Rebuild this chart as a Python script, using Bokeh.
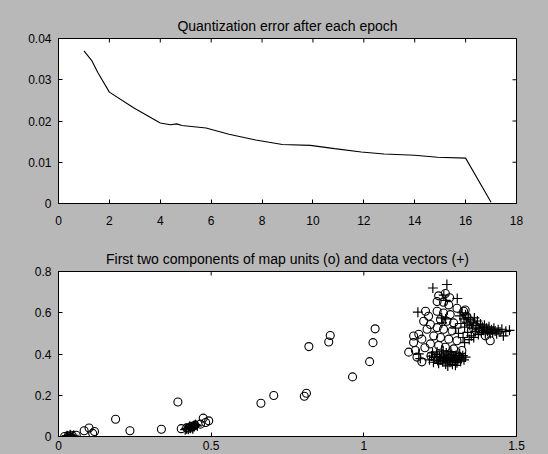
import math
from bokeh.plotting import figure
from bokeh.layouts import column
from bokeh.models import FixedTicker, Range1d
from bokeh.embed import file_html
from bokeh.resources import INLINE

# ---------------- data ----------------
title_top = "Quantization error after each epoch"
title_bottom = "First two components of map units (o) and data vectors (+)"

epoch = [1.0, 1.3, 1.55, 2.0, 2.95, 4.0, 4.4, 4.65, 4.85, 5.8, 6.7, 7.75,
         8.8, 9.9, 10.85, 11.9, 12.8, 14.0, 14.9, 16.0, 17.0]
qerr = [0.0370, 0.0347, 0.0317, 0.0270, 0.0232, 0.0195, 0.0191, 0.0193,
        0.0189, 0.0183, 0.0168, 0.0154, 0.0143, 0.0141, 0.0133, 0.0125,
        0.0120, 0.0117, 0.0112, 0.0110, 0.0003]

top_xticks = [0, 2, 4, 6, 8, 10, 12, 14, 16, 18]
top_xlabels = ["0", "2", "4", "6", "8", "10", "12", "14", "16", "18"]
top_yticks = [0, 0.01, 0.02, 0.03, 0.04]
top_ylabels = ["0", "0.01", "0.02", "0.03", "0.04"]

bot_xticks = [0, 0.5, 1, 1.5]
bot_xlabels = ["0", "0.5", "1", "1.5"]
bot_yticks = [0, 0.2, 0.4, 0.6, 0.8]
bot_ylabels = ["0", "0.2", "0.4", "0.6", "0.8"]

# map units (o)
unit_x = [0.020, 0.032, 0.045, 0.058, 0.084, 0.100, 0.112, 0.118, 0.187, 0.234,
          0.337, 0.391, 0.402, 0.420, 0.433, 0.447, 0.465, 0.474, 0.492, 0.482,
          0.663, 0.705, 0.805, 0.812, 0.820, 0.885, 0.890, 0.963, 1.019, 1.030,
          1.037,
          1.245, 1.267, 1.281, 1.240, 1.261, 1.278, 1.202, 1.212, 1.196, 1.218,
          1.207, 1.180, 1.190, 1.163, 1.147, 1.174, 1.169, 1.240, 1.261, 1.283,
          1.251, 1.272, 1.294, 1.240, 1.261, 1.289, 1.229, 1.251, 1.278, 1.305,
          1.218, 1.245, 1.267, 1.294, 1.321, 1.327, 1.337, 1.349, 1.365, 1.381,
          1.398, 1.414, 1.305, 1.332, 1.220, 1.250, 1.280, 1.310, 1.200, 1.190,
          1.163]
unit_y = [0.000, 0.002, 0.004, 0.006, 0.028, 0.041, 0.015, 0.024, 0.084, 0.028,
          0.035, 0.167, 0.038, 0.042, 0.048, 0.055, 0.060, 0.089, 0.076, 0.068,
          0.161, 0.199, 0.195, 0.210, 0.436, 0.458, 0.490, 0.289, 0.363, 0.455,
          0.522,
          0.682, 0.693, 0.673, 0.654, 0.651, 0.638, 0.607, 0.583, 0.559, 0.543,
          0.520, 0.496, 0.472, 0.456, 0.409, 0.385, 0.417, 0.607, 0.599, 0.591,
          0.567, 0.559, 0.551, 0.528, 0.520, 0.512, 0.488, 0.480, 0.472, 0.464,
          0.449, 0.441, 0.433, 0.425, 0.417, 0.607, 0.583, 0.559, 0.536, 0.512,
          0.488, 0.464, 0.622, 0.613, 0.390, 0.370, 0.380, 0.390, 0.430, 0.362,
          0.487]

# data vectors (+)
data_x = [0.025, 0.030, 0.035, 0.040, 0.045, 0.050, 0.038, 0.028,
          0.415, 0.420, 0.425, 0.428, 0.432, 0.435, 0.438, 0.442, 0.445, 0.450,
          0.455, 0.418, 0.430, 0.440, 0.448,
          1.226, 1.272, 1.306, 1.177, 1.262, 1.268, 1.256, 1.268, 1.255, 1.185,
          1.180,
          1.215, 1.222, 1.228, 1.232, 1.238, 1.242, 1.245, 1.248, 1.252, 1.255,
          1.258, 1.262, 1.265, 1.268, 1.270, 1.273, 1.276, 1.279, 1.282, 1.285,
          1.288, 1.290, 1.293, 1.296, 1.299, 1.302, 1.305, 1.308, 1.311, 1.314,
          1.317, 1.320, 1.324, 1.328, 1.333, 1.260, 1.240, 1.285, 1.225, 1.300,
          1.275,
          1.315, 1.322, 1.328, 1.333, 1.338, 1.342, 1.347, 1.350, 1.355, 1.358,
          1.362, 1.365, 1.368, 1.372, 1.375, 1.378, 1.382, 1.385, 1.388, 1.392,
          1.395, 1.398, 1.402, 1.405, 1.410, 1.414, 1.418, 1.422, 1.426, 1.430,
          1.435, 1.440, 1.446, 1.452, 1.457, 1.465, 1.477, 1.330, 1.318, 1.340,
          1.352, 1.345, 1.330, 1.360, 1.310, 1.300, 1.325]
data_y = [0.000, 0.003, 0.000, 0.005, 0.002, 0.006, 0.008, 0.004,
          0.033, 0.038, 0.035, 0.042, 0.040, 0.047, 0.044, 0.050, 0.048, 0.055,
          0.052, 0.040, 0.050, 0.038, 0.058,
          0.720, 0.737, 0.669, 0.603, 0.685, 0.660, 0.551, 0.570, 0.575, 0.378,
          0.401,
          0.372, 0.390, 0.360, 0.382, 0.398, 0.368, 0.355, 0.385, 0.372, 0.400,
          0.362, 0.390, 0.378, 0.352, 0.405, 0.368, 0.395, 0.382, 0.360, 0.373,
          0.398, 0.350, 0.386, 0.366, 0.378, 0.393, 0.358, 0.372, 0.385, 0.402,
          0.365, 0.380, 0.392, 0.372, 0.385, 0.415, 0.410, 0.412, 0.405, 0.345,
          0.342,
          0.585, 0.600, 0.570, 0.590, 0.555, 0.578, 0.540, 0.565, 0.525, 0.550,
          0.575, 0.510, 0.538, 0.560, 0.495, 0.522, 0.545, 0.505, 0.530, 0.515,
          0.540, 0.498, 0.525, 0.510, 0.532, 0.500, 0.518, 0.505, 0.525, 0.512,
          0.498, 0.518, 0.507, 0.520, 0.488, 0.510, 0.515, 0.530, 0.548, 0.505,
          0.488, 0.470, 0.455, 0.480, 0.500, 0.525, 0.480]

# ---------------- styling ----------------
BG = "#b8b8b8"
FONT = "Liberation Sans"


def style(p, xt, xl, yt, yl, xr, yr, xstandoff):
    p.background_fill_color = "white"
    p.border_fill_color = BG
    p.outline_line_color = "black"
    p.outline_line_width = 1
    p.grid.visible = False
    p.title.text_font = FONT
    p.title.text_font_size = "14px"
    p.title.text_font_style = "normal"
    p.title.text_color = "black"
    p.title.align = "center"
    p.title.standoff = 9
    p.xaxis.ticker = FixedTicker(ticks=xt)
    p.xaxis.major_label_overrides = {float(t): s for t, s in zip(xt, xl)}
    p.yaxis.ticker = FixedTicker(ticks=yt)
    p.yaxis.major_label_overrides = {float(t): s for t, s in zip(yt, yl)}
    for ax in (p.xaxis[0], p.yaxis[0]):
        ax.major_tick_in = 4
        ax.major_tick_out = 0
        ax.minor_tick_line_color = None
        ax.axis_line_color = "black"
        ax.major_tick_line_color = "black"
        ax.major_label_text_font = FONT
        ax.major_label_text_font_size = "12px"
        ax.major_label_text_color = "black"
    p.yaxis.major_label_standoff = 7
    p.xaxis.major_label_standoff = xstandoff
    # mirrored inward ticks on the top and right edges (MATLAB "box on")
    p.scatter(xt, [yr[1]] * len(xt), marker="dash", angle=math.pi / 2, size=8,
              line_color="black", line_width=1)
    p.scatter([xr[1]] * len(yt), yt, marker="dash", size=8,
              line_color="black", line_width=1)


top_xr, top_yr = (0, 18), (0, 0.04)
p1 = figure(width=548, height=244, output_backend="svg", toolbar_location=None,
            x_range=Range1d(*top_xr), y_range=Range1d(*top_yr), title=title_top,
            min_border_left=57, min_border_right=32, min_border_top=38,
            min_border_bottom=41)
style(p1, top_xticks, top_xlabels, top_yticks, top_ylabels, top_xr, top_yr, 12)
p1.line(epoch, qerr, line_color="black", line_width=1.1)

bot_xr, bot_yr = (0, 1.5), (0, 0.8)
p2 = figure(width=548, height=210, output_backend="svg", toolbar_location=None,
            x_range=Range1d(*bot_xr), y_range=Range1d(*bot_yr), title=title_bottom,
            min_border_left=58, min_border_right=30, min_border_top=23,
            min_border_bottom=18)
style(p2, bot_xticks, bot_xlabels, bot_yticks, bot_ylabels, bot_xr, bot_yr, 4)
p2.scatter(unit_x, unit_y, marker="circle", size=8, fill_alpha=0,
           line_color="black", line_width=1.1)
p2.scatter(data_x, data_y, marker="cross", size=10,
           line_color="black", line_width=1.2)

layout = column(p1, p2, spacing=0, styles={"background-color": BG})
open("out.html", "w").write(file_html(layout, INLINE))
